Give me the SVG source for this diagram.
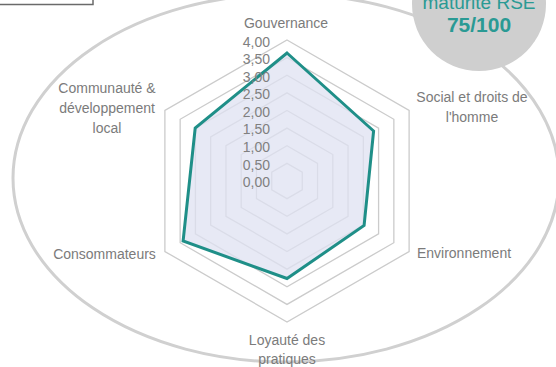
<svg xmlns="http://www.w3.org/2000/svg" width="556" height="367" viewBox="0 0 556 367">
<style>
.lbl{font-family:"Liberation Sans",Arial,sans-serif;font-size:14px;fill:#7b7b7b}
.val{font-family:"Liberation Sans",Arial,sans-serif;font-size:14px;fill:#808080;text-anchor:end}
.mid{text-anchor:middle}
.ring{fill:none;stroke:#cbcbcb;stroke-width:1.3}
</style>
<rect x="0" y="0" width="556" height="367" fill="#ffffff"/>
<rect x="-3" y="-20" width="96" height="24.5" fill="#ffffff" stroke="#6a6a6a" stroke-width="1.5"/>
<ellipse id="frame" cx="286" cy="178" rx="273" ry="184" fill="none" stroke="#d0d0d0" stroke-width="3"/>
<g id="score">
<circle cx="479" cy="4" r="67" fill="#cfcfcf"/>
<text x="479" y="9" class="mid" style="font-family:'Liberation Sans',Arial,sans-serif;font-size:19px;fill:#2a9a94">maturité RSE</text>
<text x="479" y="32" class="mid" style="font-family:'Liberation Sans',Arial,sans-serif;font-size:21px;font-weight:bold;fill:#2a9a94">75/100</text>
</g>
<g id="connectors">
<polygon class="ring" points="287,163.375 302.26,172.19 302.26,189.81 287,198.625 271.74,189.81 271.74,172.19"/>
<polygon class="ring" points="287,145.75 317.53,163.375 317.53,198.625 287,216.25 256.47,198.625 256.47,163.375"/>
<polygon class="ring" points="287,128.125 332.79,154.56 332.79,207.44 287,233.875 241.21,207.44 241.21,154.56"/>
<polygon class="ring" points="287,110.5 348.05,145.75 348.05,216.25 287,251.5 225.95,216.25 225.95,145.75"/>
<polygon class="ring" points="287,92.875 363.32,136.94 363.32,225.06 287,269.125 210.68,225.06 210.68,136.94"/>
<polygon class="ring" points="287,75.25 378.58,128.125 378.58,233.875 287,286.75 195.42,233.875 195.42,128.125"/>
<polygon class="ring" points="287,57.625 393.85,119.31 393.85,242.69 287,304.375 180.15,242.69 180.15,119.31"/>
<polygon class="ring" points="287,40 409.11,110.5 409.11,251.5 287,322 164.89,251.5 164.89,110.5"/>
<polygon id="series" points="287,53 373.6,131 364.1,225.5 287,278.5 183.1,241 195.2,128" fill="#dfe2f1" fill-opacity="0.75" stroke="#1f8f88" stroke-width="3" stroke-linejoin="miter"/>
</g>
<g id="scale">
<text class="val" x="270" y="46.5">4,00</text>
<text class="val" x="270" y="64">3,50</text>
<text class="val" x="270" y="81.5">3,00</text>
<text class="val" x="270" y="99">2,50</text>
<text class="val" x="270" y="116.5">2,00</text>
<text class="val" x="270" y="134">1,50</text>
<text class="val" x="270" y="152">1,00</text>
<text class="val" x="270" y="169.5">0,50</text>
<text class="val" x="270" y="187">0,00</text>
</g>
<g id="gouvernance"><text class="lbl mid" x="286" y="28">Gouvernance</text></g>
<g id="social"><text class="lbl mid" x="472" y="102">Social et droits de</text><text class="lbl mid" x="472" y="122">l'homme</text></g>
<g id="environnement"><text class="lbl mid" x="464" y="258">Environnement</text></g>
<g id="loyaute"><text class="lbl mid" x="287" y="345">Loyauté des</text><text class="lbl mid" x="287" y="364">pratiques</text></g>
<g id="consommateurs"><text class="lbl mid" x="104.5" y="259">Consommateurs</text></g>
<g id="communaute"><text class="lbl mid" x="107" y="93">Communauté &amp;</text><text class="lbl mid" x="107" y="113">développement</text><text class="lbl mid" x="107" y="133">local</text></g>
</svg>
